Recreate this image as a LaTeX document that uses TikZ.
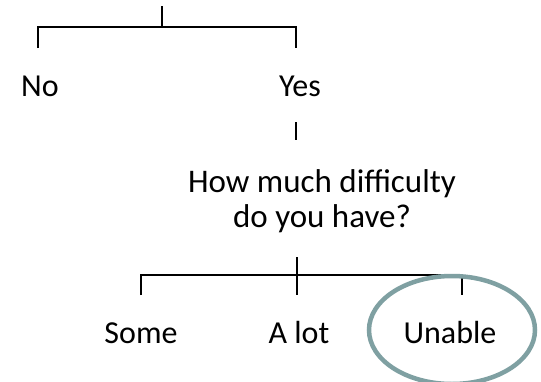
\documentclass[tikz,border=0pt]{standalone}
\usepackage{fontspec}
\setmainfont{Carlito}
\usetikzlibrary{shapes.geometric}
\definecolor{ringcol}{RGB}{127,160,162}
\begin{document}
\begin{tikzpicture}[x=1pt,y=-1pt,
  link/.style={draw=black, line width=2pt},
  lbl/.style={font=\fontsize{32}{35}\selectfont, inner sep=0pt, anchor=base},
  qst/.style={font=\fontsize{33}{35}\selectfont, inner sep=0pt, anchor=base, align=center},
  ring/.style={draw=ringcol, line width=4.5pt, ellipse, inner sep=0pt, minimum width=166pt, minimum height=108pt}]
\useasboundingbox (0,0) rectangle (541,381);
% top branch
\coordinate (a0) at (162,6);
\coordinate (a1) at (162,27);
\coordinate (aL) at (38,27);
\coordinate (aLd) at (38,48);
\coordinate (aR) at (296,27);
\coordinate (aRd) at (296,48);
\draw[link] (a0) -- (a1);
\draw[link] (aLd) -- (aL) -- (aR) -- (aRd);
\node[lbl] (no) at (40,96) {No};
\node[lbl] (yes) at (300,96) {Yes};
% link to question
\coordinate (y0) at (296,122);
\coordinate (y1) at (296,140);
\draw[link] (y0) -- (y1);
\node[qst] (q) at (322,227) {How much difficulty\\do you have?};
% bottom branch
\coordinate (b0) at (297,257);
\coordinate (b1) at (297,295);
\coordinate (bL) at (141,275);
\coordinate (bLd) at (141,295);
\coordinate (bR) at (462,275);
\coordinate (bRd) at (462,295);
\draw[link] (b0) -- (b1);
\draw[link] (bLd) -- (bL) -- (bR) -- (bRd);
\node[lbl] (some) at (141,343) {Some};
\node[lbl] (alot) at (299,343) {A lot};
\node[lbl] (unable) at (450,343) {Unable};
\node[ring] (circ) at (452,330) {};
\end{tikzpicture}
\end{document}
